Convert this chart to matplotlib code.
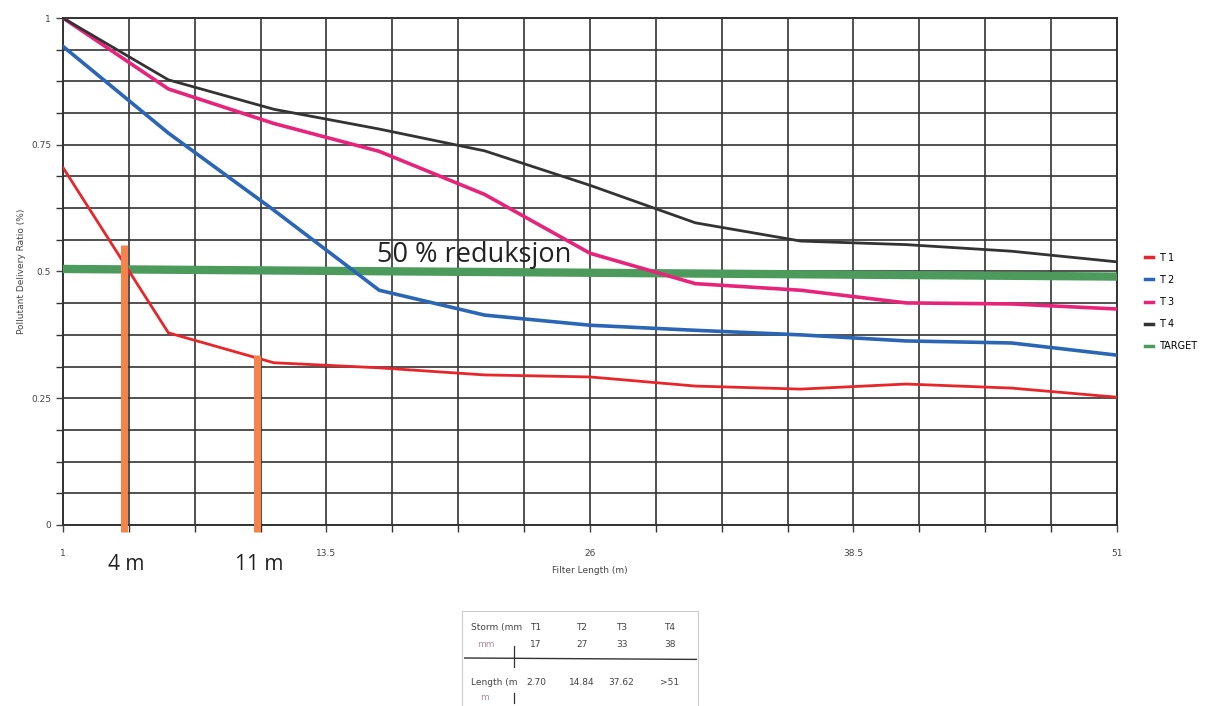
import numpy as np
import matplotlib.pyplot as plt
from matplotlib.ticker import FixedLocator

# Filter length (m) and delivery ratio
length = [1, 6, 11, 16, 21, 26, 31, 36, 41, 46, 51]
t1 = [0.705, 0.379, 0.320, 0.310, 0.296, 0.292, 0.274, 0.268, 0.278, 0.270, 0.252]
t2 = [0.944, 0.773, 0.621, 0.463, 0.414, 0.394, 0.384, 0.375, 0.363, 0.359, 0.335]
t3 = [1.0, 0.860, 0.792, 0.737, 0.652, 0.536, 0.476, 0.463, 0.438, 0.436, 0.426]
t4 = [1.0, 0.878, 0.820, 0.781, 0.738, 0.670, 0.596, 0.560, 0.553, 0.540, 0.519]
target_x = [1, 51]
target_y = [0.505, 0.490]

# hand-drawn markers for the required length
marks_x = [3.9, 10.2]
marks_top = [0.553, 0.335]
marks_txt = ["4 m", "11 m"]

xticks = [1, 13.5, 26, 38.5, 51]
yticks = [0, 0.25, 0.5, 0.75, 1]

table_head = ["T1", "T2", "T3", "T4"]
table_storm = ["17", "27", "33", "38"]
table_len = ["2.70", "14.84", "37.62", ">51"]

fig = plt.figure(figsize=(12.07, 7.06), dpi=100)
ax = fig.add_axes([0.0522, 0.2564, 0.8732, 0.7181])

ax.plot(length, t1, color="#e8262a", lw=2, label="T 1", zorder=4)
ax.plot(length, t2, color="#2a66b5", lw=2.6, label="T 2", zorder=4)
ax.plot(length, t3, color="#e8237a", lw=2.6, label="T 3", zorder=4)
ax.plot(length, t4, color="#333333", lw=2, label="T 4", zorder=4)
ax.plot(target_x, target_y, color="#4c9a5c", lw=6, label="TARGET", zorder=3)

for mx, top, txt in zip(marks_x, marks_top, marks_txt):
    ax.plot([mx, mx], [-0.013, top], color="#f5834a", lw=5, zorder=5,
            solid_capstyle="butt", clip_on=False)
    ax.text(mx + 0.1, -0.078, txt, ha="center", va="center", fontsize=15,
            family="Open Sans", color="#222222", transform=ax.transData)

ax.text(15.9, 0.532, "50 % reduksjon", fontsize=19.5, family="Open Sans",
        color="#222222", va="center", zorder=6)

ax.set_xlim(1, 51)
ax.set_ylim(0, 1)
ax.xaxis.set_minor_locator(FixedLocator(np.linspace(1, 51, 17)))
ax.yaxis.set_minor_locator(FixedLocator(np.linspace(0, 1, 17)))
ax.set_xticks(xticks)
ax.set_xticklabels([f"{v:g}" for v in xticks])
ax.set_yticks(yticks)
ax.set_yticklabels([f"{v:g}" for v in yticks])
ax.grid(True, which="both", color="#333333", lw=1.2)
ax.tick_params(which="both", direction="out", length=5, width=1, color="#333333")
ax.tick_params(axis="x", which="major", pad=12, labelsize=6.5, colors="#444444")
ax.tick_params(axis="y", which="major", labelsize=6.5, colors="#444444")
for s in ax.spines.values():
    s.set_color("#333333")
    s.set_linewidth(1.4)

ax.set_xlabel("Filter Length (m)", fontsize=6.5, color="#444444", labelpad=6)
ax.set_ylabel("Pollutant Delivery Ratio (%)", fontsize=6.5, color="#444444", labelpad=4)

leg = ax.legend(loc="center left", bbox_to_anchor=(1.018, 0.44), frameon=False,
                fontsize=7, handlelength=0.9, labelspacing=1.25, handletextpad=0.6)
for h in leg.get_lines():
    h.set_linewidth(2.5)

# small summary table below the plot
box = plt.Rectangle((0.383, -0.02), 0.195, 0.155, transform=fig.transFigure,
                    fill=False, lw=0.8, ec="#cccccc")
fig.patches.append(box)
fs = 6.5
fig.text(0.390, 0.108, "Storm (mm", fontsize=fs, color="#444444")
fig.text(0.395, 0.083, "mm", fontsize=fs, color="#b08ca0")
fig.text(0.390, 0.030, "Length (m", fontsize=fs, color="#444444")
fig.text(0.398, 0.008, "m", fontsize=fs, color="#b08ca0")
cols = [0.444, 0.482, 0.515, 0.555]
for cx, h, s, l in zip(cols, table_head, table_storm, table_len):
    fig.text(cx, 0.108, h, fontsize=fs, color="#444444", ha="center")
    fig.text(cx, 0.083, s, fontsize=fs, color="#444444", ha="center")
    fig.text(cx, 0.030, l, fontsize=fs, color="#444444", ha="center")
fig.add_artist(plt.Line2D([0.385, 0.577], [0.068, 0.066], color="#333333", lw=1))
fig.add_artist(plt.Line2D([0.426, 0.426], [0.085, 0.055], color="#333333", lw=0.9))
fig.add_artist(plt.Line2D([0.426, 0.426], [0.018, 0.004], color="#333333", lw=0.9))

fig.savefig("out.png", dpi=100, facecolor="white")
